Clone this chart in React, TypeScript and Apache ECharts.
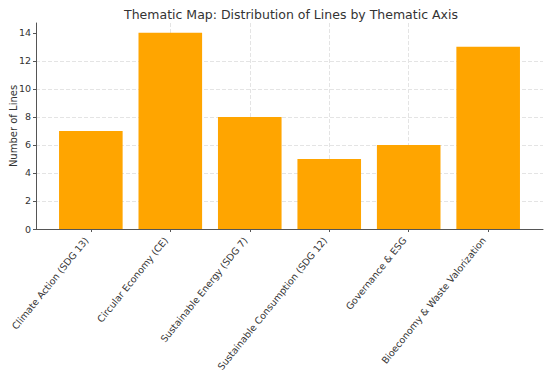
import React, { useEffect, useRef } from "react";
import * as echarts from "echarts";

const categories = [
  "Climate Action (SDG 13)",
  "Circular Economy (CE)",
  "Sustainable Energy (SDG 7)",
  "Sustainable Consumption (SDG 12)",
  "Governance & ESG",
  "Bioeconomy & Waste Valorization",
];
const lineCounts = [7, 14, 8, 5, 6, 13];
const yTicks = [0, 2, 4, 6, 8, 10, 12, 14];

export default function App() {
  const ref = useRef<HTMLDivElement>(null);
  useEffect(() => {
    if (!ref.current) return;
    const chart = echarts.init(ref.current, null, { renderer: "svg" });
    const font = "DejaVu Sans";
    const idx = categories.map((_, i) => i);
    chart.setOption({
      animation: false,
      title: {
        text: "Thematic Map: Distribution of Lines by Thematic Axis",
        left: 286,
        top: 3,
        textAlign: "center",
        textStyle: { fontFamily: font, fontSize: 12.5, fontWeight: "normal", color: "#333" },
      },
      grid: {
        left: 36,
        right: 7,
        top: 23,
        bottom: 146,
        containLabel: false,
        outerBoundsMode: "none",
      },
      xAxis: {
        type: "value",
        min: -0.69,
        max: 5.69,
        axisLine: { show: true, onZero: false, lineStyle: { color: "#555", width: 1 } },
        axisTick: { show: true, customValues: idx, length: 3, lineStyle: { color: "#555" } },
        axisLabel: {
          customValues: idx,
          rotate: 51,
          fontFamily: font,
          fontSize: 9.5,
          color: "#333",
          margin: 4,
          padding: [0, 7, 0, 0],
          formatter: (v: number) => categories[Math.round(v)] ?? "",
        },
        splitLine: {
          show: true,
          showMinLine: false,
          showMaxLine: false,
          lineStyle: { color: "#e4e4e4", type: "dashed" },
        },
      },
      yAxis: {
        type: "value",
        min: 0,
        max: 14.7,
        name: "Number of Lines",
        nameLocation: "middle",
        nameGap: 18,
        nameMoveOverlap: false,
        nameTextStyle: { fontFamily: font, fontSize: 10, color: "#333" },
        axisLine: { show: true, onZero: false, lineStyle: { color: "#555", width: 1 } },
        axisTick: { show: true, customValues: yTicks, length: 3, lineStyle: { color: "#555" } },
        axisLabel: {
          fontFamily: font,
          fontSize: 9.5,
          color: "#333",
          margin: 5,
          customValues: yTicks,
        },
        splitLine: {
          show: true,
          showMaxLine: false,
          lineStyle: { color: "#e4e4e4", type: "dashed" },
        },
      },
      series: [
        {
          type: "bar",
          data: lineCounts.map((v, i) => [i, v]),
          barWidth: 63.6,
          itemStyle: { color: "#ffa500" },
        },
      ],
    });
    return () => chart.dispose();
  }, []);
  return (
    <div
      ref={ref}
      style={{ position: "fixed", left: 0, top: 0, width: 550, height: 375, background: "#fff" }}
    />
  );
}
